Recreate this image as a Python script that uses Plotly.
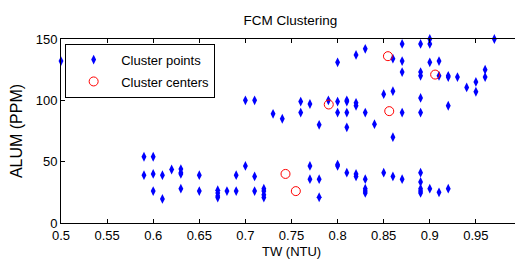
import plotly.graph_objects as go

# Cluster points (TW in NTU, ALUM in PPM)
tw = [0.50, 0.80, 0.82, 0.83, 0.86, 0.87, 0.87, 0.87, 0.89, 0.89, 0.89, 0.90, 0.90, 0.90,
      0.91, 0.91, 0.92, 0.92, 0.93, 0.94, 0.95, 0.95, 0.96, 0.96, 0.97,
      0.86, 0.85, 0.89, 0.92, 0.86, 0.84, 0.87, 0.89, 0.83, 0.82, 0.82, 0.81, 0.81, 0.81, 0.81,
      0.80, 0.80, 0.79, 0.78, 0.77, 0.76, 0.76, 0.74, 0.73, 0.71, 0.70,
      0.59, 0.60, 0.59, 0.60, 0.60, 0.61, 0.61, 0.62, 0.63, 0.63, 0.63, 0.63, 0.65, 0.65,
      0.67, 0.67, 0.67, 0.67, 0.68, 0.69, 0.69, 0.70, 0.71, 0.71, 0.72, 0.72, 0.72, 0.72,
      0.77, 0.77, 0.78, 0.78, 0.80, 0.80, 0.81, 0.82, 0.82, 0.83, 0.83, 0.83, 0.83,
      0.85, 0.86, 0.87, 0.89, 0.89, 0.89, 0.89, 0.89, 0.90, 0.91, 0.92]
alum = [132, 131, 137, 142, 134, 146, 132, 123, 146, 123, 120, 150, 146, 131,
        132, 120, 120, 119, 119, 110.5, 115, 107, 125, 119, 150,
        107.5, 105, 102, 95.6, 70, 80.6, 90, 90, 90, 98, 95.6, 100, 99, 90, 78,
        99, 90, 100, 80, 97, 99, 90, 85, 89, 100, 100,
        54, 54, 39, 40, 26, 39, 19.6, 43.6, 44, 41, 40, 28, 39, 26,
        26.7, 24.5, 22, 20.7, 26, 39, 26, 46.5, 38, 26, 28, 26, 23, 20.7,
        46.5, 35.7, 35.7, 21, 47.6, 46.5, 41, 40, 38, 35.7, 28, 26, 24.5,
        41, 38, 35.7, 41, 33.5, 28, 26, 24.5, 28, 25, 28]

# Cluster centers
center_tw = [0.7435, 0.7547, 0.7904, 0.8546, 0.856, 0.9058]
center_alum = [40, 26, 96.6, 136, 91.2, 121]

x_ticks = [0.5, 0.55, 0.6, 0.65, 0.7, 0.75, 0.8, 0.85, 0.9, 0.95, 1.0]
x_tick_text = ["0.5", "0.55", "0.6", "0.65", "0.7", "0.75", "0.8", "0.85", "0.9", "0.95", "1"]
y_ticks = [0, 50, 100, 150]

fig = go.Figure()
fig.add_trace(go.Scatter(
    x=tw, y=alum, mode="markers", name="Cluster points",
    marker=dict(symbol="diamond-tall", size=7, color="#0000ff", line=dict(width=0)),
    legendgroup="a", cliponaxis=False))
fig.add_trace(go.Scatter(
    x=center_tw, y=center_alum, mode="markers", name="Cluster centers",
    marker=dict(symbol="circle-open", size=9, color="#ff0000", line=dict(width=1, color="#ff0000")),
    legendgroup="b", cliponaxis=False))

font = "Liberation Sans, Arial, sans-serif"
axis_common = dict(showgrid=False, zeroline=False, showline=True, linecolor="black", linewidth=1,
                   mirror="ticks", ticks="inside", ticklen=4, tickcolor="black", automargin=False,
                   tickfont=dict(family=font, size=13, color="black"))

# The page body keeps an 8px margin; the figure is sized so that the page does not scroll.
fig.update_layout(
    width=515, height=251,
    margin=dict(l=53, r=1, t=31, b=36),
    paper_bgcolor="white", plot_bgcolor="white",
    title=dict(text="FCM Clustering", x=0.5485, xanchor="center", y=0.952, yanchor="middle",
               font=dict(family=font, size=13.5, color="black")),
    xaxis=dict(range=[0.5, 1.0], tickvals=x_ticks, ticktext=x_tick_text, **axis_common),
    yaxis=dict(range=[0, 150], tickvals=y_ticks,
               title=dict(text="ALUM (PPM)", font=dict(family=font, size=16, color="black"), standoff=14),
               **axis_common),
    legend=dict(x=0.009, y=0.975, xanchor="left", yanchor="top",
                bgcolor="white", bordercolor="black", borderwidth=1,
                font=dict(family=font, size=13, color="black"),
                itemwidth=45, tracegroupgap=2),
    annotations=[dict(text="TW (NTU)", xref="paper", yref="paper", x=0.5, y=-0.155,
                      xanchor="center", yanchor="middle", showarrow=False,
                      font=dict(family=font, size=13, color="black"))],
    showlegend=True,
)

fig.write_html("out.html")
